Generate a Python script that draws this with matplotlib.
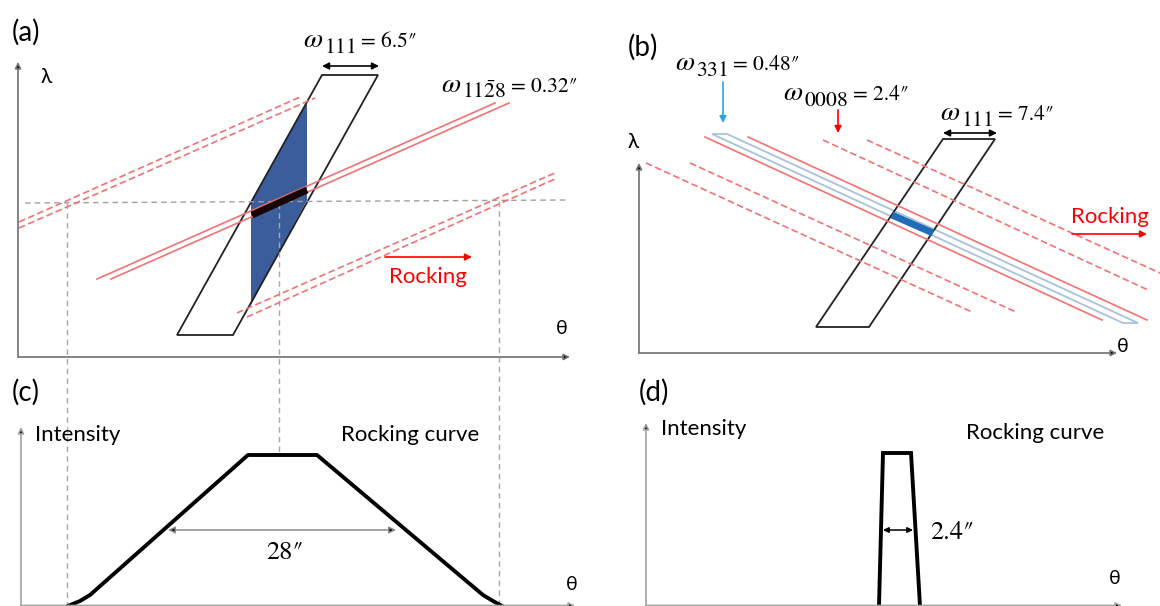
import numpy as np
import matplotlib.pyplot as plt
from matplotlib.patches import Polygon

plt.rcParams['font.family'] = ['Lato', 'DejaVu Sans']
plt.rcParams['mathtext.fontset'] = 'stix'

W, H = 1160, 606

# sketch is drawn in pixel units of the original figure (x right, y down)
# panel (a): lambda-theta sketch
a_cell_x = [177, 233, 378, 322]
a_cell_y = [335, 335, 75, 75]
a_blue_x = [251, 307, 307, 251]
a_blue_y = [202, 102, 200, 305]
a_solid_x = [[97, 495], [111, 509]]
a_solid_y = [[279, 103], [279, 103]]
a_dash_x = [[19, 300], [19, 315], [237, 557], [247, 557]]
a_dash_y = [[222, 97], [228, 98], [313, 172], [317, 178]]
a_bar_x = [252, 307]
a_bar_y = [215, 190]
a_guide_hx = [25, 567]
a_guide_hy = [203, 200]
a_guide_vx = [67, 279, 499]
a_guide_vtop = [203, 203, 201]
a_guide_vbot = [606, 455, 606]

# panel (b)
b_cell_x = [816, 869, 995, 943]
b_cell_y = [327, 327, 139, 139]
b_strip_x = [712, 727, 1138, 1123]
b_strip_y = [134, 134, 323, 323]
b_solid_x = [[705, 1102], [748, 1147]]
b_solid_y = [[137, 320], [137, 320]]
b_dash_x = [[646, 972], [690, 1016], [823, 1148], [867, 1160]]
b_dash_y = [[163, 312], [163, 312], [140, 290], [140, 273]]
b_bar_x = [892, 933]
b_bar_y = [215, 233]

# panel (c) and (d): rocking curves
c_curve_x = [68, 80, 90, 248, 317, 483, 493, 502]
c_curve_y = [606, 601, 595, 455, 455, 595, 601, 606]
d_peak_x = [879, 883, 911, 920]
d_peak_y = [606, 453, 453, 606]

# widths written on the sketch: (reflection, value)
omega_labels = [('111', '6.5', 303, 47), (r'11\bar{2}8', '0.32', 441, 92),
                ('331', '0.48', 675, 70), ('0008', '2.4', 783, 100),
                ('111', '7.4', 940, 120)]

RED = '#f07272'
GRAY = '#8c8c8c'
DP = '\u2033'

fig = plt.figure(figsize=(W / 100, H / 100), dpi=100)
ax = fig.add_axes([0, 0, 1, 1])
ax.set_xlim(0, W)
ax.set_ylim(H, 0)
ax.axis('off')
renderer = fig.canvas.get_renderer()


def arrow(x0, y0, x1, y1, color='#555555', head='black', style='-|>', lw=1.2, ms=10):
    ax.annotate('', xy=(x1, y1), xytext=(x0, y0),
                arrowprops=dict(arrowstyle=style, color=color, lw=lw,
                                mutation_scale=ms, shrinkA=0, shrinkB=0,
                                fc=head, ec=color))


def right_edge(t):
    bb = t.get_window_extent(renderer)
    return ax.transData.inverted().transform((bb.x1, bb.y0))[0]


def omega_label(sub, val, x, y):
    t = ax.text(x, y, r'$\omega$', fontsize=20, ha='left', va='baseline')
    t = ax.text(right_edge(t) + 1, y + 6, r'$%s$' % sub, fontsize=15.5, ha='left', va='baseline')
    ax.text(right_edge(t) + 5, y, '= ' + val + DP, fontsize=15.5, ha='left',
            va='baseline', family='STIXGeneral')


# coordinate axes
for (ox, oy, tx, ty) in [(18, 357, 18, 62), (18, 357, 570, 357),
                         (639, 353, 639, 163), (639, 353, 1117, 353)]:
    arrow(ox, oy, tx, ty, color='#707070', ms=9)
for (ox, oy, tx, ty) in [(21, 606, 21, 427), (21, 605.5, 575, 605.5),
                         (646, 606, 646, 423), (646, 605.5, 1122, 605.5)]:
    arrow(ox, oy, tx, ty, color='#a0a0a0', ms=9)

# ---- (a)
ax.plot(a_guide_hx, a_guide_hy, color='#a0a0a0', lw=1, ls=(0, (4, 3)))
for x, y0, y1 in zip(a_guide_vx, a_guide_vtop, a_guide_vbot):
    ax.plot([x, x], [y0, y1], color='#a8a8a8', lw=1, ls=(0, (4, 3)))
ax.add_patch(Polygon(np.column_stack([a_blue_x, a_blue_y]), closed=True,
                     fc='#3c5d9c', ec='none'))
for xs, ys in zip(a_solid_x, a_solid_y):
    ax.plot(xs, ys, color=RED, lw=1.2)
for xs, ys in zip(a_dash_x, a_dash_y):
    ax.plot(xs, ys, color=RED, lw=1.2, ls=(0, (4, 2)))
ax.add_patch(Polygon(np.column_stack([a_cell_x, a_cell_y]), closed=True,
                     fc='none', ec='#222222', lw=1.3))
ax.plot(a_bar_x, a_bar_y, color='#1a0505', lw=5, solid_capstyle='butt')
arrow(322, 66, 379, 66, color='black', style='<|-|>', lw=1.2, ms=10)
arrow(385, 257, 472, 257, color='red', head='red', lw=1.2, ms=10)

ax.text(26, 32, '(a)', fontsize=20, ha='center', va='center')
ax.text(46, 77, 'λ', fontsize=15, ha='center', va='center')
ax.text(562, 329, 'θ', fontsize=14, ha='center', va='center')
ax.text(428, 277, 'Rocking', fontsize=16, color='red', ha='center', va='center')

# ---- (b)
ax.add_patch(Polygon(np.column_stack([b_strip_x, b_strip_y]), closed=True,
                     fc='none', ec='#a8c2dc', lw=1.3))
for xs, ys in zip(b_solid_x, b_solid_y):
    ax.plot(xs, ys, color=RED, lw=1.2)
for xs, ys in zip(b_dash_x, b_dash_y):
    ax.plot(xs, ys, color=RED, lw=1.2, ls=(0, (4, 2)))
ax.add_patch(Polygon(np.column_stack([b_cell_x, b_cell_y]), closed=True,
                     fc='none', ec='#222222', lw=1.3))
ax.plot(b_bar_x, b_bar_y, color='#1f6cb8', lw=5, solid_capstyle='butt')
arrow(943, 133, 997, 133, color='black', style='<|-|>', lw=1.2, ms=10)
arrow(723, 82, 723, 123, color='#2aa6e0', head='#2aa6e0', lw=1.2, ms=10)
arrow(838, 110, 838, 133, color='red', head='red', lw=1.2, ms=10)
arrow(1072, 234, 1147, 234, color='red', head='red', lw=1.2, ms=10)

ax.text(643, 47, '(b)', fontsize=20, ha='center', va='center')
ax.text(633, 142, 'λ', fontsize=15, ha='center', va='center')
ax.text(1123, 347, 'θ', fontsize=14, ha='center', va='center')
ax.text(1110, 217, 'Rocking', fontsize=16, color='red', ha='center', va='center')

for sub, val, x, y in omega_labels:
    omega_label(sub, val, x, y)

# ---- (c)
ax.plot(c_curve_x, c_curve_y, color='black', lw=2.8, solid_joinstyle='round')
arrow(168, 530, 396, 530, color=GRAY, style='<|-|>', lw=1.1, ms=10)
ax.text(26, 392, '(c)', fontsize=20, ha='center', va='center')
ax.text(78, 435, 'Intensity', fontsize=16, ha='center', va='center')
ax.text(410, 435, 'Rocking curve', fontsize=16, ha='center', va='center')
ax.text(285, 553, '28' + DP, fontsize=19, ha='center', va='center', family='STIXGeneral')
ax.text(572, 585, 'θ', fontsize=14, ha='center', va='center')

# ---- (d)
ax.plot(d_peak_x, d_peak_y, color='black', lw=2.8, solid_joinstyle='miter')
arrow(883, 530, 913, 530, color='black', style='<|-|>', lw=1.1, ms=8)
ax.text(654, 392, '(d)', fontsize=20, ha='center', va='center')
ax.text(704, 429, 'Intensity', fontsize=16, ha='center', va='center')
ax.text(1035, 433, 'Rocking curve', fontsize=16, ha='center', va='center')
ax.text(930, 533, '2.4' + DP, fontsize=19, ha='left', va='center', family='STIXGeneral')
ax.text(1115, 578, 'θ', fontsize=14, ha='center', va='center')

fig.savefig('out.png', dpi=100)
